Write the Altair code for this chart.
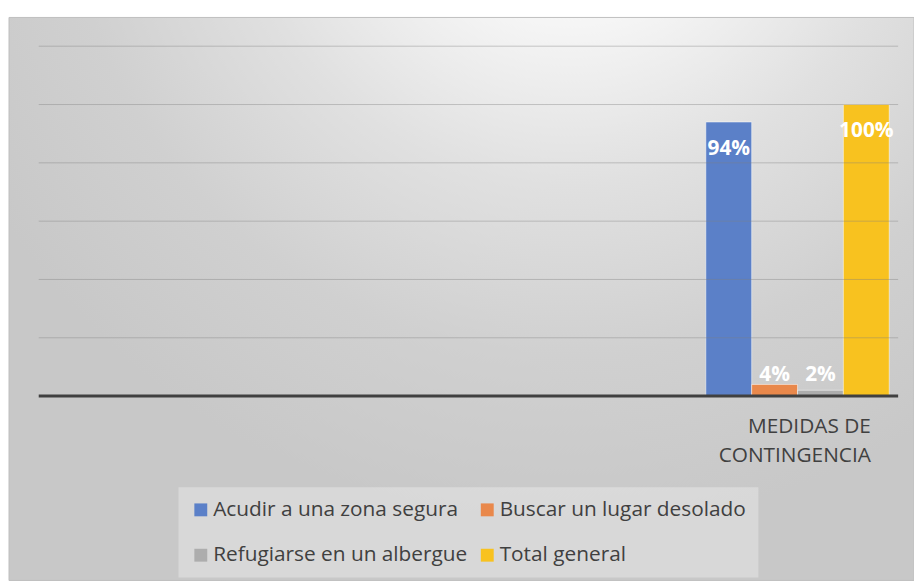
import altair as alt
import pandas as pd

category = "MEDIDAS DE CONTINGENCIA"
series = ["Acudir a una zona segura", "Buscar un lugar desolado",
          "Refugiarse en un albergue", "Total general"]
values = [0.94, 0.04, 0.02, 1.00]
colors = ["#5b80c8", "#e9884b", "#adadad", "#f8c21f"]
y_ticks = [0.2, 0.4, 0.6, 0.8, 1.0, 1.2]

df = pd.DataFrame({"cat": [category] * len(series), "serie": series, "valor": values})
grid_df = pd.DataFrame({"y": y_ticks})

W, H = 867, 353
FONT = "Open Sans"
TXT = "#404040"

x_enc = alt.X("cat:N",
              scale=alt.Scale(domain=[category], range=[673, 858],
                              paddingInner=0, paddingOuter=0),
              axis=alt.Axis(title=None, ticks=False, domain=False, grid=False,
                            labelFont=FONT, labelFontSize=21, labelColor=TXT,
                            labelExpr="[slice(datum.label,0,10), slice(datum.label,11)]",
                            labelAngle=0, labelAlign="right", labelOffset=74,
                            labelPadding=20, labelLineHeight=29, labelBaseline="top",
                            labelLimit=400, zindex=1))
xo_enc = alt.XOffset("serie:N", scale=alt.Scale(domain=series, paddingInner=0, paddingOuter=0))
y_scale = alt.Scale(domain=[0, 1.2], nice=False, zero=True)

bg = alt.Chart(pd.DataFrame({"a": [0]})).mark_rect(
    fill={"gradient": "radial", "x1": 0.62, "y1": 0.0, "r1": 0,
          "x2": 0.62, "y2": 0.0, "r2": 0.75,
          "stops": [{"offset": 0, "color": "#ffffff"},
                    {"offset": 0.25, "color": "#f6f6f6"},
                    {"offset": 0.5, "color": "#e0e0e0"},
                    {"offset": 0.75, "color": "#d0d0d0"},
                    {"offset": 1, "color": "#c8c8c8"}]},
    stroke="#bfbfbf", strokeWidth=1
).encode(x=alt.value(-30), x2=alt.value(883), y=alt.value(-29), y2=alt.value(539))

bars = alt.Chart(df).mark_bar(stroke="white", strokeOpacity=0.5, strokeWidth=1).encode(
    x=x_enc,
    xOffset=xo_enc,
    y=alt.Y("valor:Q", scale=y_scale, axis=None),
    color=alt.Color("serie:N", scale=alt.Scale(domain=series, range=colors),
                    legend=alt.Legend(title=None, orient="none", legendX=141, legendY=445,
                                      direction="horizontal", columns=2,
                                      symbolType="square", symbolSize=169,
                                      symbolStrokeWidth=0, symbolOpacity=1,
                                      labelFont=FONT, labelFontSize=21, labelColor=TXT,
                                      labelOffset=2, columnPadding=9, rowPadding=24,
                                      padding=12, fillColor="rgba(255,255,255,0.3)",
                                      labelLimit=400)),
)

grid = alt.Chart(grid_df).mark_rule(color="#808080", opacity=0.4, strokeWidth=1).encode(
    y=alt.Y("y:Q", scale=y_scale), x=alt.value(0), x2=alt.value(W))

base_rule = alt.Chart(pd.DataFrame({"a": [0]})).mark_rule(color="#404040", strokeWidth=3).encode(
    y=alt.datum(0, scale=y_scale), x=alt.value(0), x2=alt.value(W))

lab_hi = alt.Chart(df).transform_filter("datum.valor > 0.5").mark_text(
    font=FONT, fontWeight="bold", fontSize=21, color="white", baseline="middle", dy=27
).encode(x=x_enc, xOffset=xo_enc, y=alt.Y("valor:Q", scale=y_scale),
         text=alt.Text("valor:Q", format=".0%"))

lab_lo = alt.Chart(df).transform_filter("datum.valor <= 0.5").mark_text(
    font=FONT, fontWeight="bold", fontSize=21, color="white", baseline="middle", dy=-21
).encode(x=x_enc, xOffset=xo_enc, y=alt.datum(0, scale=y_scale),
         text=alt.Text("valor:Q", format=".0%"))

chart = alt.layer(bg, bars, grid, base_rule, lab_hi, lab_lo).properties(
    width=W, height=H,
    autosize=alt.AutoSizeParams(type="none"),
    padding={"left": 31, "top": 36, "right": 16, "bottom": 186},
    background="white",
).configure_view(stroke=None)

chart.save("out.html", embed_options={"renderer": "svg", "actions": False})
